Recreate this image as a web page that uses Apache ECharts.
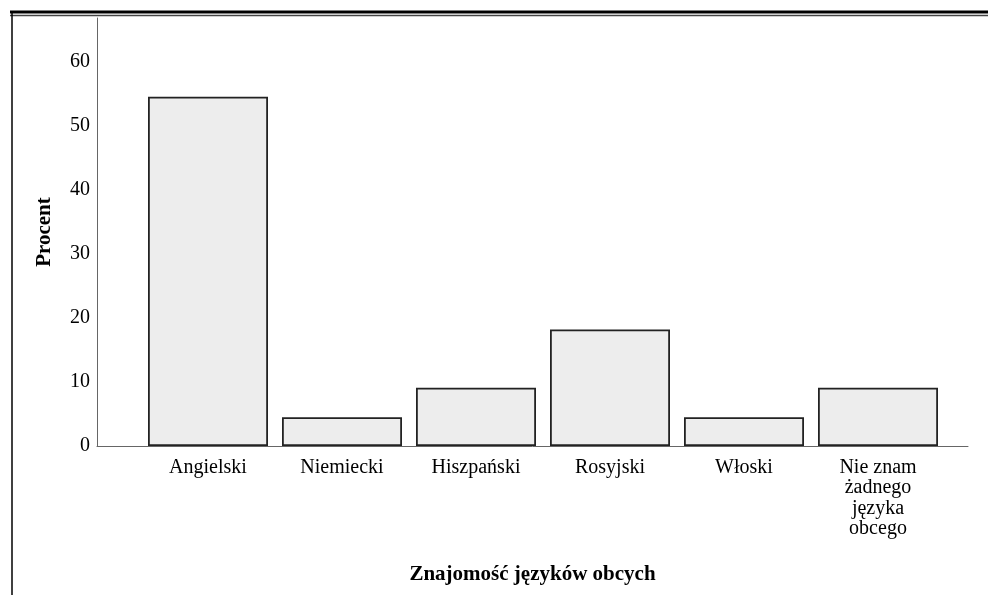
<!DOCTYPE html>
<html>
<head>
<meta charset="utf-8">
<script src="https://cdn.jsdelivr.net/npm/echarts@6/dist/echarts.min.js"></script>
<style>
  html, body { margin: 0; padding: 0; background: #fff; }
  #chart { width: 988px; height: 595px; }
</style>
</head>
<body>
<div id="chart"></div>
<script>
// Znajomość języków obcych (%)
const languages = ["Angielski", "Niemiecki", "Hiszpański", "Rosyjski", "Włoski", "Nie znam\nżadnego\njęzyka\nobcego"];
const percent = [54.5, 4.5, 9.1, 18.2, 4.5, 9.1];
const yMax = 66.8;

const chart = echarts.init(document.getElementById("chart"));
const font = "'Liberation Serif', 'DejaVu Serif', serif";

chart.setOption({
  backgroundColor: "#fff",
  animation: false,
  textStyle: { fontFamily: font },
  // frame lines around the output block
  graphic: [
    { type: "line", shape: { x1: 10, y1: 12, x2: 988, y2: 12 }, style: { stroke: "#000", lineWidth: 3 } },
    { type: "line", shape: { x1: 10, y1: 15.5, x2: 988, y2: 15.5 }, style: { stroke: "#444", lineWidth: 1.5 } },
    { type: "line", shape: { x1: 12, y1: 11, x2: 12, y2: 595 }, style: { stroke: "#000", lineWidth: 1.5 } }
  ],
  grid: [
    // axis frame
    { left: 97, top: 18, width: 871, bottom: 149 },
    // bars
    { left: 141, top: 18, width: 804, bottom: 149 }
  ],
  xAxis: [
    {
      gridIndex: 0, type: "value", min: 0, max: 1,
      axisLine: { show: true, lineStyle: { color: "#666", width: 1 } },
      axisTick: { show: false }, axisLabel: { show: false }, splitLine: { show: false },
      name: "Znajomość języków obcych", nameLocation: "middle", nameGap: 118,
      nameTextStyle: { fontFamily: font, fontSize: 21, fontWeight: "bold", color: "#000" }
    },
    {
      gridIndex: 1, type: "category", data: languages,
      axisLine: { show: false }, axisTick: { show: false },
      axisLabel: { interval: 0, margin: 11, fontFamily: font, fontSize: 20, color: "#000", lineHeight: 20.5 }
    }
  ],
  yAxis: [
    {
      gridIndex: 0, type: "value", min: 0, max: yMax, interval: 10,
      axisLine: { show: true, lineStyle: { color: "#666", width: 1 } },
      axisTick: { show: false }, splitLine: { show: false },
      axisLabel: { margin: 7, fontFamily: font, fontSize: 20, color: "#000", showMaxLabel: false },
      name: "Procent", nameLocation: "middle", nameGap: 42, nameRotate: 90,
      nameTextStyle: { fontFamily: font, fontSize: 21, fontWeight: "bold", color: "#000" }
    },
    {
      gridIndex: 1, type: "value", min: 0, max: yMax, interval: 10,
      axisLine: { show: false }, axisTick: { show: false },
      axisLabel: { show: false }, splitLine: { show: false }
    }
  ],
  series: [
    {
      type: "bar", xAxisIndex: 1, yAxisIndex: 1,
      data: percent, barWidth: 120,
      itemStyle: { color: "#ededed", borderColor: "#222", borderWidth: 1.8 }
    }
  ]
});
</script>
</body>
</html>
